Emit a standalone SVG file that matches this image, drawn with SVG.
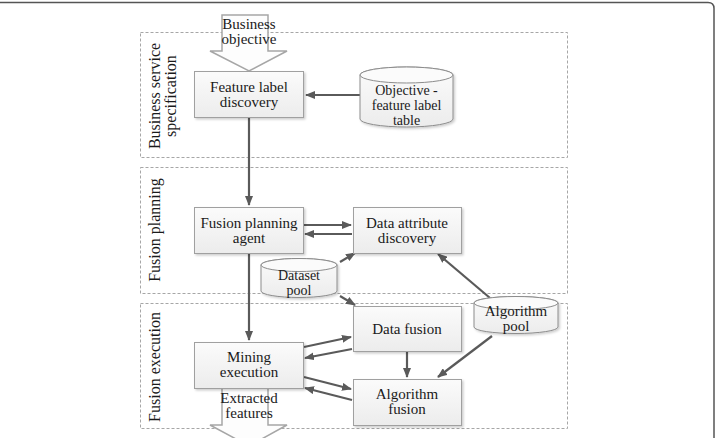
<svg xmlns="http://www.w3.org/2000/svg" width="717" height="438" viewBox="0 0 717 438">
<defs>
<style>
text{font-family:"Liberation Serif","Times New Roman",serif;font-size:15px;fill:#1a1a1a;text-anchor:middle}
.side{font-size:16px}
.sm{font-size:14px}
.zone{fill:none;stroke:#a6a6a6;stroke-width:1;stroke-dasharray:3,2}
.box{fill:url(#g);stroke:#a0a0a0;stroke-width:1;filter:url(#sh)}
.cyl{fill:url(#g);stroke:#8c8c8c;stroke-width:1}
.c{stroke:#5a5a5a;stroke-width:2.2;fill:none;marker-end:url(#ah)}
.big{fill:#fdfdfd;stroke:#a6a6a6;stroke-width:1.5}
</style>
<linearGradient id="g" x1="0" y1="0" x2="0" y2="1"><stop offset="0" stop-color="#fbfbfb"/><stop offset="1" stop-color="#ececec"/></linearGradient>
<filter id="sh" x="-10%" y="-10%" width="125%" height="130%"><feDropShadow dx="1.5" dy="1.5" stdDeviation="1" flood-color="#000" flood-opacity="0.2"/></filter>
<marker id="ah" markerWidth="10" markerHeight="8" refX="9" refY="4" orient="auto" markerUnits="userSpaceOnUse"><path d="M0,0 L10,4 L0,8 z" fill="#5a5a5a"/></marker>
</defs>
<rect width="717" height="438" fill="#fff"/>
<path d="M0,2.5 H708 Q714,2.5 714,8.5 V438" fill="none" stroke="#555" stroke-width="1.5"/>

<g id="zones">
<rect class="zone" x="140.5" y="32.5" width="427" height="125"/>
<rect class="zone" x="140.5" y="167.5" width="427" height="126"/>
<rect class="zone" x="140.5" y="303.5" width="427" height="125"/>
<text class="side" transform="translate(160,96) rotate(-90)">Business service</text>
<text class="side" transform="translate(176,96) rotate(-90)">specification</text>
<text class="side" transform="translate(160,230) rotate(-90)">Fusion planning</text>
<text class="side" transform="translate(160,367) rotate(-90)">Fusion execution</text>
</g>

<g id="business-objective">
<path class="big" d="M222,15 H268 V51 H287 L249,71 L210,51 H222 Z"/>
<text x="249" y="29">Business</text>
<text x="249" y="44">objective</text>
</g>

<g id="extracted-features">
<path class="big" d="M222,388 H268 V425 H287 L249,446 L210,425 H222 Z"/>
<text x="249" y="403">Extracted</text>
<text x="249" y="418">features</text>
</g>

<g id="connectors">
<path class="c" d="M360,95 H306"/>
<path class="c" d="M249,117 V205"/>
<path class="c" d="M304,225 H351"/>
<path class="c" d="M352,234 H305"/>
<path class="c" d="M340,262 L355,253"/>
<path class="c" d="M340,296 L355,305"/>
<path class="c" d="M490,298 L438,254"/>
<path class="c" d="M249,253 V340"/>
<path class="c" d="M304,347 L351,337"/>
<path class="c" d="M352,349 L305,358"/>
<path class="c" d="M304,377 L351,389"/>
<path class="c" d="M352,400 L305,388"/>
<path class="c" d="M407,352 V377"/>
<path class="c" d="M492,336 L438,377"/>
</g>

<g id="feature-label-discovery">
<rect class="box" x="194.5" y="71.5" width="109" height="46"/>
<text x="249" y="92">Feature label</text>
<text x="249" y="107">discovery</text>
</g>

<g id="objective-feature-label-table">
<path class="cyl" d="M360,75 A46.5,8 0 0 1 453,75 V119 A46.5,8 0 0 1 360,119 Z" filter="url(#sh)"/>
<ellipse cx="406.5" cy="75" rx="46.5" ry="8" fill="#fbfbfb" stroke="#8c8c8c"/>
<text class="sm" x="406.5" y="95">Objective -</text>
<text class="sm" x="406.5" y="110">feature label</text>
<text class="sm" x="406.5" y="125">table</text>
</g>

<g id="fusion-planning-agent">
<rect class="box" x="194.5" y="207.5" width="109" height="46"/>
<text x="249" y="228">Fusion planning</text>
<text x="249" y="243">agent</text>
</g>

<g id="data-attribute-discovery">
<rect class="box" x="353.5" y="207.5" width="108" height="46"/>
<text x="407" y="228">Data attribute</text>
<text x="407" y="243">discovery</text>
</g>

<g id="dataset-pool">
<path class="cyl" d="M261,265 A38,6.5 0 0 1 337,265 V291 A38,6.5 0 0 1 261,291 Z" filter="url(#sh)"/>
<ellipse cx="299" cy="265" rx="38" ry="6.5" fill="#fbfbfb" stroke="#8c8c8c"/>
<text class="sm" x="299" y="280">Dataset</text>
<text class="sm" x="299" y="295">pool</text>
</g>

<g id="algorithm-pool">
<path class="cyl" d="M474,303 A42,6.5 0 0 1 558,303 V327 A42,6.5 0 0 1 474,327 Z" filter="url(#sh)"/>
<ellipse cx="516" cy="303" rx="42" ry="6.5" fill="#fbfbfb" stroke="#8c8c8c"/>
<text x="516" y="316">Algorithm</text>
<text x="516" y="331">pool</text>
</g>

<g id="data-fusion">
<rect class="box" x="353.5" y="306.5" width="108" height="45"/>
<text x="407" y="334">Data fusion</text>
</g>

<g id="mining-execution">
<rect class="box" x="194.5" y="342.5" width="109" height="46"/>
<text x="249" y="362">Mining</text>
<text x="249" y="377">execution</text>
</g>

<g id="algorithm-fusion">
<rect class="box" x="353.5" y="379.5" width="108" height="46"/>
<text x="407" y="399">Algorithm</text>
<text x="407" y="414">fusion</text>
</g>
</svg>
